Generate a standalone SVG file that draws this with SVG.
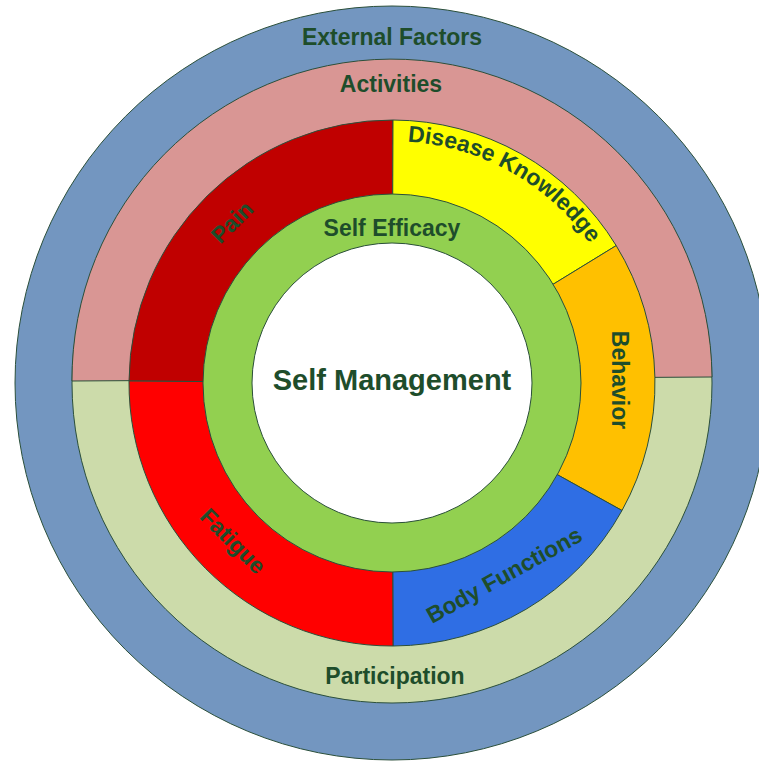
<svg xmlns="http://www.w3.org/2000/svg" xmlns:xlink="http://www.w3.org/1999/xlink" width="759" height="762" viewBox="0 0 759 762">
<style>
.sh{stroke:#2B4F3A;stroke-width:1}
.lb{font-family:"Liberation Sans",Arial,Helvetica,sans-serif;font-weight:bold;font-size:23px;fill:#1E4D2B;text-anchor:middle}
.big{font-size:29px}
</style>
<defs>
<path id="dkArc" d="M265.6,176.7 A242,242 0 0 1 634,383"/>
</defs>
<rect width="759" height="762" fill="#ffffff"/>
<g id="external-factors">
<circle class="sh" cx="392" cy="383" r="377" fill="#7396C0"/>
<text class="lb" x="392" y="45">External Factors</text>
</g>
<g id="participation">
<circle class="sh" cx="392" cy="383" r="320" fill="#CCDBAA"/>
<text class="lb" x="395" y="684">Participation</text>
</g>
<g id="activities">
<path class="sh" d="M72,381 A320,320 0 0 1 712,377 Z" fill="#D99694"/>
<text class="lb" x="391" y="92">Activities</text>
</g>
<g id="pain">
<path class="sh" d="M392,383 L129,381 A263,263 0 0 1 393,120 Z" fill="#C00000"/>
<text class="lb" transform="translate(232,222) rotate(-45)" x="0" y="8">Pain</text>
</g>
<g id="disease-knowledge">
<path class="sh" d="M392,383 L393,120 A263,263 0 0 1 616.2,245.6 Z" fill="#FFFF00"/>
<text class="lb"><textPath xlink:href="#dkArc" href="#dkArc" startOffset="50%">Disease Knowledge</textPath></text>
</g>
<g id="behavior">
<path class="sh" d="M392,383 L616.2,245.6 A263,263 0 0 1 622,510.5 Z" fill="#FFC000"/>
<text class="lb" transform="translate(620,380) rotate(90)" x="0" y="8">Behavior</text>
</g>
<g id="body-functions">
<path class="sh" d="M392,383 L622,510.5 A263,263 0 0 1 393,646 Z" fill="#2F6EE4"/>
<text class="lb" transform="translate(504,575) rotate(-29)" x="0" y="8">Body Functions</text>
</g>
<g id="fatigue">
<path class="sh" d="M392,383 L393,646 A263,263 0 0 1 129,381 Z" fill="#FF0000"/>
<text class="lb" transform="translate(233,541) rotate(45)" x="0" y="8">Fatigue</text>
</g>
<g id="self-efficacy">
<circle class="sh" cx="392" cy="383" r="189" fill="#92D050"/>
<text class="lb" x="392" y="236">Self Efficacy</text>
</g>
<g id="self-management">
<circle class="sh" cx="392" cy="383" r="140" fill="#ffffff"/>
<text class="lb big" x="392" y="390">Self Management</text>
</g>
<g id="connectors"></g>
</svg>
